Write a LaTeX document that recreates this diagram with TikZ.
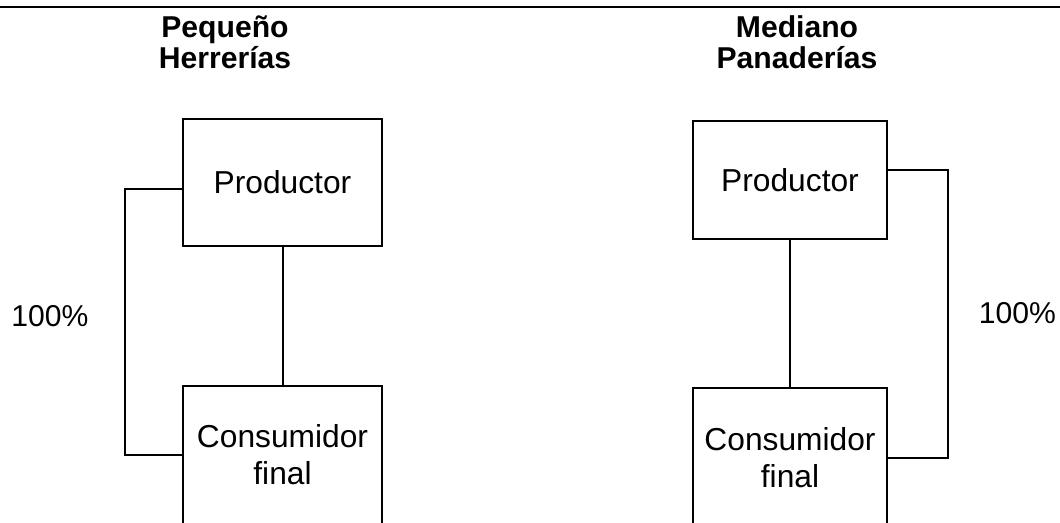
\documentclass[tikz,border=0pt]{standalone}
\usepackage{fontspec}
\setmainfont{Liberation Sans}
\usetikzlibrary{positioning}
\tikzset{
  caja/.style={draw, line width=1.5pt, align=center, inner sep=0pt, font=\fontsize{23.8}{27.75}\selectfont},
  titulo/.style={align=center, inner sep=0pt, font=\bfseries\fontsize{22.6}{23.25}\selectfont},
  porcentaje/.style={inner sep=0pt, font=\fontsize{22.6}{27}\selectfont},
  enlace/.style={line width=1.5pt},
}
\begin{document}
\begin{tikzpicture}[x=0.75pt, y=-0.75pt]
    \useasboundingbox (0,0) rectangle (1060,522);
    \draw[line width=2.2pt] (0,7) -- (1060,7);

    % canal pequeno
    \node[titulo] (tituloA) at (225,42) {Pequeño\\Herrerías};
    \node[caja, minimum width=149.25pt, minimum height=95.25pt] at (282.5,182.5) (prodA) {Productor};
    \node[caja, minimum width=149.25pt, minimum height=103.5pt] at (282.5,455) (consA) {Consumidor\\final};
    \node[porcentaje] at (50,316) (pctA) {100\%};

    \coordinate (codoA1) at (125,189);
    \coordinate (codoA2) at (125,455);

    % canal mediano
    \node[titulo] (tituloB) at (797,42) {Mediano\\Panaderías};
    \node[caja, minimum width=145.5pt, minimum height=88.5pt] at (790,180) (prodB) {Productor};
    \node[caja, minimum width=145.5pt, minimum height=104.25pt] at (790,457.5) (consB) {Consumidor\\final};
    \node[porcentaje] at (1017.5,313.5) (pctB) {100\%};

    \coordinate (codoB1) at (948,170);
    \coordinate (codoB2) at (948,458);

    \draw[enlace](prodA) -- (consA);
    \draw[enlace](prodA.west |- codoA1) -- (codoA1) -- (codoA2) -- (consA.west |- codoA2);
    \draw[enlace](prodB) -- (consB);
    \draw[enlace](prodB.east |- codoB1) -- (codoB1) -- (codoB2) -- (consB.east |- codoB2);
\end{tikzpicture}
\end{document}
